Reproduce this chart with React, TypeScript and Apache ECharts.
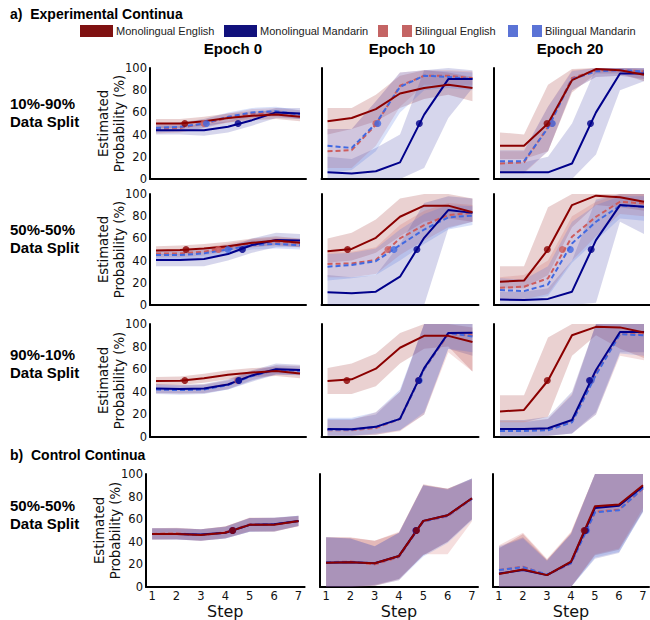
import React, { useEffect, useRef } from "react";
import * as echarts from "echarts";

// ---------- labels ----------
const steps = [1, 2, 3, 4, 5, 6, 7];
const epochTitles = ["Epoch 0", "Epoch 10", "Epoch 20"];
const rowLabels = ["10%-90%\nData Split", "50%-50%\nData Split", "90%-10%\nData Split", "50%-50%\nData Split"];
const sectionTitles = ["a)  Experimental Continua", "b)  Control Continua"];
const seriesNames = ["Monolingual English", "Monolingual Mandarin", "Bilingual English", "Bilingual Mandarin"];
const yAxisName = "Estimated\nProbability (%)";
const xAxisName = "Step";

// ---------- data: panels in order r1c1, r1c2, r1c3, r2c1, ... r4c3 ----------
// Monolingual English
const meMean = [
  [50, 50, 52, 55, 57, 58, 56],
  [52, 55, 63, 77, 82, 85, 82],
  [30, 30, 50, 89, 99, 98, 94],
  [49, 49.5, 51, 53, 56, 58, 56],
  [48.5, 50.5, 60.5, 79.5, 89.5, 89.5, 83.5],
  [21, 22, 50, 90, 98.5, 97, 93],
  [49.5, 49.7, 52, 55, 57, 58.4, 56.3],
  [49.5, 51, 60.5, 79, 89.5, 89.5, 84],
  [22.5, 24, 50, 90, 97.5, 97, 92.5],
  [47, 47, 46, 48, 55, 55, 58.5],
  [21.5, 22, 21, 27.5, 58.5, 63.5, 78.5],
  [11.5, 15.5, 10.5, 22.5, 71.5, 73, 90],
];
const meLow = [
  [46, 46, 48, 51, 53, 54, 52],
  [40, 45, 52, 64, 72, 76, 70],
  [18, 18, 25, 78, 95, 95, 88],
  [45, 45.5, 47, 49, 52, 54, 52],
  [38, 40, 47, 62, 75, 78, 75],
  [15, 15, 27, 70, 90, 88, 85],
  [46, 46, 48, 51, 53, 54, 52],
  [38, 38, 45, 65, 78, 80, 58],
  [13, 13, 18, 72, 90, 78, 70],
  [42, 42, 41, 43, 49, 49, 54],
  [0, 0, 1, 7, 28, 40, 60],
  [0, 0, 0, 0, 28, 33, 67],
];
const meHigh = [
  [54, 54, 56, 59, 61, 62, 60],
  [64, 64, 76, 93, 98, 96, 92],
  [42, 40, 85, 99, 100, 100, 99],
  [53, 53.5, 55, 57, 60, 62, 60],
  [60, 65, 77, 96, 100, 100, 96],
  [35, 35, 88, 100, 100, 100, 100],
  [53, 53.5, 56, 59, 61, 62, 60.5],
  [61, 65, 74, 92, 100, 100, 97],
  [37, 37, 88, 100, 100, 100, 100],
  [52, 52, 51, 53.5, 61, 61, 63],
  [44, 43.5, 41, 48, 91, 87, 96],
  [34, 47, 24, 48, 100, 100, 100],
];
// Monolingual Mandarin
const mmMean = [
  [44, 44, 44, 47, 53, 60, 59],
  [6, 5, 7, 15, 58, 90, 90],
  [6, 6, 6, 14, 60, 95, 95],
  [40.5, 40.5, 41.5, 46, 54, 58.5, 58],
  [11.5, 10.5, 12, 25.5, 60.5, 85.5, 83],
  [5, 4.5, 5.5, 12, 58.5, 90, 88.5],
  [43, 42.5, 43, 46.5, 54.5, 60, 59.3],
  [7, 6.8, 9, 16, 61, 92, 92.3],
  [7, 7, 7.7, 15, 59.3, 93, 93],
  [47, 47, 46.5, 48, 55, 55.5, 58.5],
  [21.5, 22, 21, 27.5, 58.5, 63.5, 78.5],
  [12, 15, 10.5, 22, 70, 72, 89],
];
const mmLow = [
  [40, 40, 39, 42, 48, 55, 54],
  [0, 0, 0, 0, 10, 55, 82],
  [0, 0, 0, 0, 22, 80, 88],
  [35, 35, 35, 40, 47, 52, 52],
  [0, 0, 0, 0, 0, 69, 75],
  [0, 0, 0, 0, 2, 75, 64],
  [39, 39, 39, 42, 49, 55, 55],
  [1, 1, 2, 6, 20, 78, 72],
  [1, 1, 1, 3, 22, 75, 75],
  [42, 42, 41, 43, 49, 49, 54],
  [0, 0, 2, 7, 28, 40, 60],
  [0, 0, 0, 0, 25, 30, 67],
];
const mmHigh = [
  [48, 48, 49, 52, 58, 64, 64],
  [20, 18, 28, 40, 98, 100, 98],
  [15, 15, 20, 50, 100, 100, 100],
  [46, 46, 47, 52, 60, 65, 64],
  [27, 25, 27, 55, 92, 98, 96],
  [12, 12, 15, 40, 95, 100, 100],
  [47, 46, 47, 51, 59, 65, 64],
  [16, 16, 20, 40, 100, 100, 100],
  [15, 15, 18, 40, 100, 100, 100],
  [52, 52, 51, 53.5, 61, 61, 63],
  [44, 43, 36, 48, 90, 87, 96],
  [36, 44, 24, 47, 100, 100, 100],
];
// Bilingual English
const beMean = [
  [45, 46, 50, 55, 59, 60, 58],
  [25, 26, 49, 84, 93, 93, 91],
  [14, 15, 47, 91, 98, 98, 97],
  [46.5, 46.5, 48, 52, 55.5, 57, 56],
  [37, 37.5, 40.5, 60, 72, 81, 83],
  [15.5, 16.5, 24, 61.5, 79.5, 93, 91.5],
  [42.5, 42, 42.5, 46.5, 54.5, 59.5, 59],
  [6, 6, 8, 16, 60, 91, 90],
  [6, 6, 6.5, 13.5, 56, 91.5, 91],
  [47, 47.5, 46, 48.5, 55.5, 55.5, 58],
  [22, 22.5, 20, 26.5, 58, 62.5, 78],
  [15, 18, 10.5, 21, 66.5, 68.5, 87],
];
const beLow = [
  [41, 42, 46, 51, 55, 56, 54],
  [10, 10, 30, 65, 85, 85, 85],
  [5, 5, 25, 80, 92, 93, 90],
  [43, 43, 44.5, 48.5, 52, 53.5, 52.5],
  [25, 25, 28, 45, 58, 70, 75],
  [5, 5, 10, 40, 62, 82, 80],
  [38.5, 38, 38.5, 42.5, 50.5, 55.5, 55],
  [1, 1, 2, 5, 20, 75, 58],
  [1, 1, 1, 3, 20, 72, 68],
  [42, 42.5, 41, 43.5, 49.5, 49.5, 53.5],
  [0, 0, 1, 6, 29, 29, 58],
  [0, 0, 0, 0, 29, 34, 70],
];
const beHigh = [
  [49, 50, 54, 59, 63, 64, 62],
  [45, 45, 70, 96, 98, 98, 97],
  [25, 25, 65, 98, 100, 100, 100],
  [50, 50, 51.5, 55.5, 59, 60.5, 59.5],
  [48, 48, 52, 72, 85, 92, 90],
  [25, 27, 40, 80, 93, 100, 100],
  [46.5, 46, 46.5, 50.5, 58.5, 63.5, 63],
  [15, 15, 22, 40, 100, 100, 100],
  [14, 14, 16, 38, 100, 100, 100],
  [52, 52.5, 51, 53.5, 61.5, 61.5, 62.5],
  [44, 44, 41, 49, 90, 87, 95],
  [37, 48, 25, 49, 100, 100, 100],
];
// Bilingual Mandarin
const bmMean = [
  [46, 47, 50, 56, 60, 61, 58],
  [30, 28, 50, 83, 93, 92, 90],
  [16, 16, 46, 90, 97, 98, 97],
  [45, 45, 46.5, 50, 54, 55, 54],
  [34.5, 36, 39.5, 54, 68, 79, 80.5],
  [13.5, 12.5, 18.5, 55.5, 75, 89.5, 88.5],
  [42, 41.5, 42, 46, 54, 59.5, 58.5],
  [6.5, 6.5, 9, 16, 60, 92, 89],
  [5.3, 5.3, 6, 13, 55, 91, 90],
  [47, 47, 46, 48, 55, 55.5, 58.5],
  [22, 22, 21, 27, 58, 63, 78],
  [15, 17.5, 11, 21, 66, 68, 87.5],
];
const bmLow = [
  [42, 43, 46, 52, 56, 57, 54],
  [5, 8, 25, 60, 80, 82, 80],
  [6, 6, 25, 80, 92, 93, 90],
  [41, 41, 42.5, 46, 50, 51, 50],
  [22, 24, 27, 40, 55, 68, 72],
  [4, 4, 8, 38, 58, 78, 76],
  [38, 37.5, 38, 42, 50, 55.5, 54.5],
  [1, 1, 3, 6, 22, 78, 75],
  [0, 0, 1, 3, 20, 74, 72],
  [42, 42, 41, 43, 49, 49.5, 54],
  [0, 0, 1, 6, 27, 39, 59],
  [0, 0, 0, 0, 26, 31, 66],
];
const bmHigh = [
  [50, 51, 54, 60, 64, 65, 62],
  [45, 45, 70, 96, 98, 97, 96],
  [26, 26, 65, 97, 100, 100, 100],
  [49, 49, 50.5, 54, 58, 59, 58],
  [46, 47, 51, 68, 82, 90, 89],
  [24, 23, 35, 75, 90, 98, 98],
  [46, 45.5, 46, 50, 58, 63.5, 62.5],
  [17, 17, 22, 42, 100, 100, 100],
  [13, 13, 16, 37, 100, 100, 100],
  [52, 52, 51, 53, 61, 61.5, 63],
  [44, 43, 36, 48, 90, 86, 96],
  [35, 43, 23, 47, 100, 100, 100],
];
// category boundaries (step where the curve crosses 50%)
const meBoundary = [2.2, null, 2.96, 2.25, 1.83, 2.97, 2.2, 1.8, 2.97, 4.3, 4.72, 4.55];
const mmBoundary = [4.42, 4.8, 4.77, 4.6, 4.7, 4.8, 4.45, 4.77, 4.73, 4.3, 4.7, 4.6];
const beBoundary = [3.0, 3.0, 3.16, 3.6, 3.5, 3.6, 4.4, 4.77, 4.78, 4.3, 4.7, 4.62];
const bmBoundary = [3.1, 3.08, 3.18, 4.0, 3.75, 3.93, 4.45, 4.8, 4.8, 4.3, 4.7, 4.65];
const boundaryLevel = 50;

// ---------- styles / layout ----------
const lineColors = ["#8b0000", "#00008b", "#cd5c5c", "#4169e1"];
const legendColors = ["#7f1111", "#11117c", "#c46464", "#5b73d6"];
const bandColors = [
  "rgba(139,0,0,0.18)",
  "rgba(0,0,139,0.16)",
  "rgba(205,92,92,0.2)",
  "rgba(65,105,225,0.2)",
];
const ROWS = [
  { top: 68, height: 111, lefts: [150, 321.5, 494], widths: [156, 157, 159] },
  { top: 194, height: 111, lefts: [150, 321.5, 494], widths: [156, 157, 159] },
  { top: 324, height: 113, lefts: [150, 321.5, 494], widths: [156, 157, 159] },
  { top: 474, height: 113, lefts: [146, 320, 493], widths: [158.6, 158, 156] },
];
const SANS = "'Liberation Sans', Arial, sans-serif";
const DV = "'DejaVu Sans', sans-serif";

function bandSeries(idx: number, lo: number[], hi: number[], color: string) {
  return {
    type: "custom",
    xAxisIndex: idx,
    yAxisIndex: idx,
    z: 1,
    silent: true,
    data: steps.map((s, i) => [s, lo[i], hi[i]]),
    encode: { x: 0, y: [1, 2] },
    renderItem: (params: any, api: any) => {
      if (params.dataIndex !== 0) return null;
      const pts: number[][] = [];
      steps.forEach((s, i) => pts.push(api.coord([s, hi[i]])));
      for (let i = steps.length - 1; i >= 0; i--) pts.push(api.coord([steps[i], lo[i]]));
      return { type: "polygon", shape: { points: pts }, style: { fill: color } };
    },
  };
}

export default function App() {
  const ref = useRef<HTMLDivElement>(null);
  useEffect(() => {
    document.body.style.margin = "0";
    const chart = echarts.init(ref.current!, null, { renderer: "svg" });
    const grids: any[] = [];
    const xAxes: any[] = [];
    const yAxes: any[] = [];
    const series: any[] = [];
    const graphic: any[] = [];
    const means = [meMean, mmMean, beMean, bmMean];
    const lows = [meLow, mmLow, beLow, bmLow];
    const highs = [meHigh, mmHigh, beHigh, bmHigh];
    const bounds = [meBoundary, mmBoundary, beBoundary, bmBoundary];
    const drawOrder = [2, 3, 1, 0];

    ROWS.forEach((row, r) => {
      for (let c = 0; c < 3; c++) {
        const idx = r * 3 + c;
        grids.push({ left: row.lefts[c], top: row.top, width: row.widths[c], height: row.height });
        xAxes.push({
          type: "value",
          gridIndex: idx,
          min: 0.75,
          max: 7.25,
          axisLine: { show: true, onZero: false, lineStyle: { color: "#000", width: 2 } },
          axisTick: { show: false },
          splitLine: { show: false },
          axisLabel:
            r === 3
              ? { show: true, customValues: steps, fontSize: 11.5, color: "#111", margin: 3, fontFamily: DV }
              : { show: false },
          name: r === 3 ? xAxisName : "",
          nameLocation: "middle",
          nameGap: 16,
          nameTextStyle: { fontSize: 16, color: "#111", fontFamily: DV, lineHeight: 16 },
        });
        yAxes.push({
          type: "value",
          gridIndex: idx,
          min: 0,
          max: 100,
          interval: 20,
          axisLine: { show: true, lineStyle: { color: "#000", width: 2 } },
          axisTick: { show: false },
          splitLine: { show: false },
          axisLabel: c === 0 ? { show: true, fontSize: 11.5, color: "#111", margin: 3, fontFamily: DV } : { show: false },
        });
        for (let k = 0; k < 4; k++) series.push(bandSeries(idx, lows[k][idx], highs[k][idx], bandColors[k]));
        drawOrder.forEach((k) => {
          series.push({
            type: "line",
            name: seriesNames[k],
            xAxisIndex: idx,
            yAxisIndex: idx,
            data: steps.map((s, i) => [s, means[k][idx][i]]),
            symbol: "none",
            silent: true,
            z: 2,
            lineStyle: { color: lineColors[k], width: 2, type: k >= 2 ? [5, 3] : "solid" },
          });
        });
        drawOrder.forEach((k) => {
          const b = bounds[k][idx];
          series.push({
            type: "scatter",
            xAxisIndex: idx,
            yAxisIndex: idx,
            data: b == null ? [] : [[b, boundaryLevel]],
            symbol: "circle",
            symbolSize: 7,
            silent: true,
            z: 3,
            itemStyle: { color: lineColors[k] },
          });
        });
      }
      // y axis name (rotated)
      const cx = r === 3 ? 107 : 111;
      graphic.push({
        type: "text",
        x: cx,
        y: row.top + row.height / 2,
        rotation: Math.PI / 2,
        style: {
          text: yAxisName,
          align: "center",
          verticalAlign: "middle",
          fontSize: 13.3,
          lineHeight: 16,
          fontFamily: DV,
          fill: "#111",
        },
      });
    });

    // section titles
    graphic.push({
      type: "text", x: 10, y: 14,
      style: { text: sectionTitles[0], fontSize: 14, fontWeight: "bold", fontFamily: SANS, fill: "#000", verticalAlign: "middle" },
    });
    graphic.push({
      type: "text", x: 10, y: 455,
      style: { text: sectionTitles[1], fontSize: 14, fontWeight: "bold", fontFamily: SANS, fill: "#000", verticalAlign: "middle" },
    });
    // epoch titles
    const epochX = [233, 402, 570];
    epochTitles.forEach((t, i) => {
      graphic.push({
        type: "text", x: epochX[i], y: 48,
        style: { text: t, fontSize: 15, fontWeight: "bold", fontFamily: SANS, fill: "#000", align: "center", verticalAlign: "middle" },
      });
    });
    // row labels
    const rowLabelY = [112, 238, 363, 514];
    rowLabels.forEach((t, i) => {
      graphic.push({
        type: "text", x: 10, y: rowLabelY[i],
        style: { text: t, fontSize: 15, lineHeight: 18, fontWeight: "bold", fontFamily: SANS, fill: "#000", verticalAlign: "middle" },
      });
    });
    // legend
    const legY = 31;
    graphic.push({ type: "rect", shape: { x: 80, y: legY - 6, width: 33, height: 12 }, style: { fill: legendColors[0] } });
    graphic.push({ type: "text", x: 116, y: legY, style: { text: seriesNames[0], fontSize: 11, fontFamily: SANS, fill: "#222", verticalAlign: "middle" } });
    graphic.push({ type: "rect", shape: { x: 224, y: legY - 6, width: 33, height: 12 }, style: { fill: legendColors[1] } });
    graphic.push({ type: "text", x: 260, y: legY, style: { text: seriesNames[1], fontSize: 11, fontFamily: SANS, fill: "#222", verticalAlign: "middle" } });
    [378, 402].forEach((x) => graphic.push({ type: "rect", shape: { x, y: legY - 6, width: 10, height: 12 }, style: { fill: legendColors[2] } }));
    graphic.push({ type: "text", x: 415, y: legY, style: { text: seriesNames[2], fontSize: 11, fontFamily: SANS, fill: "#222", verticalAlign: "middle" } });
    [508, 532].forEach((x) => graphic.push({ type: "rect", shape: { x, y: legY - 6, width: 10, height: 12 }, style: { fill: legendColors[3] } }));
    graphic.push({ type: "text", x: 545, y: legY, style: { text: seriesNames[3], fontSize: 11, fontFamily: SANS, fill: "#222", verticalAlign: "middle" } });

    chart.setOption({
      animation: false,
      backgroundColor: "#fff",
      grid: grids,
      xAxis: xAxes,
      yAxis: yAxes,
      series,
      graphic,
    });
    return () => chart.dispose();
  }, []);
  return <div ref={ref} style={{ position: "absolute", left: 0, top: 0, width: 650, height: 620 }} />;
}
